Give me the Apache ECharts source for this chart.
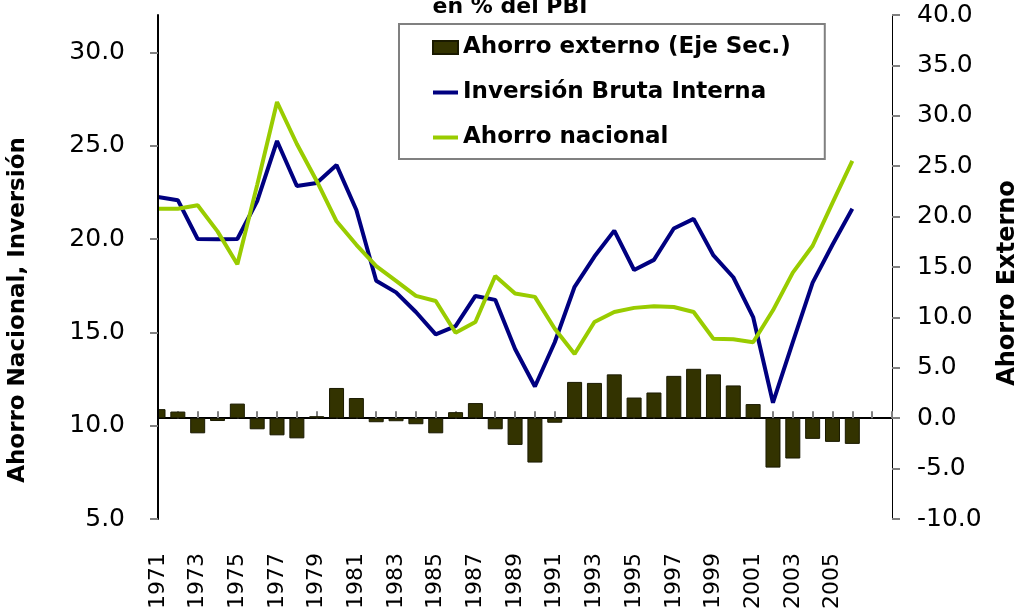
<!DOCTYPE html>
<html>
<head>
<meta charset="utf-8">
<script src="https://cdn.jsdelivr.net/npm/echarts@6.0.0/dist/echarts.min.js"></script>
<style>
  html, body { margin: 0; padding: 0; background: #fff; }
  #ahorroChart { width: 1020px; height: 608px; }
</style>
</head>
<body>
<div id="ahorroChart"></div>
<script>
// años 1971-2006, dos posiciones vacias al final del eje
var years = ['1971','1972','1973','1974','1975','1976','1977','1978','1979','1980',
             '1981','1982','1983','1984','1985','1986','1987','1988','1989','1990',
             '1991','1992','1993','1994','1995','1996','1997','1998','1999','2000',
             '2001','2002','2003','2004','2005','2006'];
var emptyYears = ['', ''];

// en % del PBI
var ahorroExterno = [0.9, 0.66, -1.5, -0.28, 1.45, -1.1, -1.7, -2.0, 0.2, 3.0,
                     2.0, -0.4, -0.3, -0.6, -1.5, 0.6, 1.5, -1.1, -2.65, -4.4,
                     -0.45, 3.6, 3.5, 4.35, 2.05, 2.55, 4.2, 4.9, 4.35, 3.25,
                     1.4, -4.9, -4.0, -2.05, -2.35, -2.55];
var inversionBruta = [22.25, 22.08, 20.0, 19.98, 20.0, 22.03, 25.25, 22.84, 23.0, 23.96,
                      21.55, 17.76, 17.14, 16.09, 14.89, 15.33, 16.95, 16.74, 14.11, 12.1,
                      14.47, 17.44, 19.06, 20.45, 18.34, 18.88, 20.56, 21.08, 19.12, 17.95,
                      15.82, 11.23, 14.47, 17.66, 19.69, 21.62];
var ahorroNacional = [21.62, 21.62, 21.81, 20.41, 18.65, 22.9, 27.34, 25.09, 23.11, 20.95,
                      19.69, 18.55, 17.76, 16.95, 16.68, 14.98, 15.55, 18.02, 17.08, 16.9,
                      15.19, 13.84, 15.55, 16.09, 16.31, 16.4, 16.36, 16.09, 14.65, 14.63,
                      14.47, 16.18, 18.2, 19.64, 21.94, 24.19];

var leftTicks = { min: 5, max: 32, step: 5 };
var rightTicks = { min: -10, max: 40, step: 5 };

var labelFont = 'DejaVu Sans';
var lineIcon = 'path://M0,0H25V4H0Z';

var chart = echarts.init(document.getElementById('ahorroChart'));
var option = {
    animation: false,
    title: {
        text: 'en % del PBI',
        left: 'center',
        top: -9,
        textStyle: { fontFamily: labelFont, fontWeight: 'bold', fontSize: 22, color: '#000' }
    },
    legend: {
        orient: 'vertical',
        left: 399,
        top: 24,
        padding: [12, 34, 10, 33],
        itemGap: 22,
        itemWidth: 25,
        itemHeight: 13,
        borderColor: '#808080',
        borderWidth: 2,
        data: [
            { name: 'Ahorro externo (Eje Sec.)', icon: 'rect' },
            { name: 'Inversión Bruta Interna', icon: lineIcon },
            { name: 'Ahorro nacional', icon: lineIcon }
        ],
        textStyle: { fontFamily: labelFont, fontWeight: 'bold', fontSize: 23, color: '#000' }
    },
    grid: {
        left: 158,
        right: 128,
        top: 15,
        bottom: 89,
        containLabel: false,
        outerBoundsMode: 'none'
    },
    xAxis: {
        type: 'category',
        boundaryGap: false,
        data: years.concat(emptyYears),
        axisLine: { lineStyle: { color: '#000', width: 2 } },
        axisTick: { inside: true, length: 7, interval: 0, lineStyle: { color: '#808080', width: 2 } },
        axisLabel: {
            interval: 1,
            rotate: 90,
            margin: 34,
            fontFamily: labelFont,
            fontSize: 22,
            color: '#000'
        },
        splitLine: { show: false }
    },
    yAxis: [
        {
            type: 'value',
            z: 10,
            min: leftTicks.min,
            max: leftTicks.max,
            interval: leftTicks.step,
            axisLine: { show: true, lineStyle: { color: '#000', width: 2 } },
            axisTick: { show: true, length: 8, lineStyle: { color: '#808080', width: 2 } },
            axisLabel: {
                margin: 33,
                showMaxLabel: false,
                fontFamily: labelFont,
                fontSize: 25,
                color: '#000',
                formatter: function (v) { return v.toFixed(1); }
            },
            splitLine: { show: false }
        },
        {
            type: 'value',
            position: 'right',
            min: rightTicks.min,
            max: rightTicks.max,
            interval: rightTicks.step,
            axisLine: { show: true, lineStyle: { color: '#000', width: 1 } },
            axisTick: { show: true, length: 8, lineStyle: { color: '#808080', width: 2 } },
            axisLabel: {
                margin: 25,
                fontFamily: labelFont,
                fontSize: 25,
                color: '#000',
                formatter: function (v) { return v.toFixed(1); }
            },
            splitLine: { show: false }
        }
    ],
    graphic: [
        // tapa la mitad de la primera barra que sale del area del grafico
        {
            type: 'rect',
            z: 5,
            silent: true,
            shape: { x: 135, y: 15, width: 22, height: 503 },
            style: { fill: '#fff' }
        },
        {
            type: 'text',
            x: 18,
            y: 310,
            rotation: Math.PI / 2,
            style: {
                text: 'Ahorro Nacional, Inversión',
                font: 'bold 23px "DejaVu Sans"',
                fill: '#000',
                align: 'center',
                verticalAlign: 'middle'
            }
        },
        {
            type: 'text',
            x: 1008,
            y: 283,
            rotation: Math.PI / 2,
            style: {
                text: 'Ahorro Externo',
                font: 'bold 24px "DejaVu Sans"',
                fill: '#000',
                align: 'center',
                verticalAlign: 'middle'
            }
        }
    ],
    series: [
        {
            name: 'Ahorro externo (Eje Sec.)',
            type: 'bar',
            yAxisIndex: 1,
            barWidth: 15,
            data: ahorroExterno,
            itemStyle: { color: '#333300', borderColor: '#1a1a00', borderWidth: 1 }
        },
        {
            name: 'Inversión Bruta Interna',
            type: 'line',
            yAxisIndex: 0,
            symbol: 'none',
            data: inversionBruta,
            lineStyle: { color: '#000080', width: 4 },
            itemStyle: { color: '#000080' }
        },
        {
            name: 'Ahorro nacional',
            type: 'line',
            yAxisIndex: 0,
            symbol: 'none',
            data: ahorroNacional,
            lineStyle: { color: '#99cc00', width: 4 },
            itemStyle: { color: '#99cc00' }
        }
    ]
};
chart.setOption(option);
</script>
</body>
</html>
